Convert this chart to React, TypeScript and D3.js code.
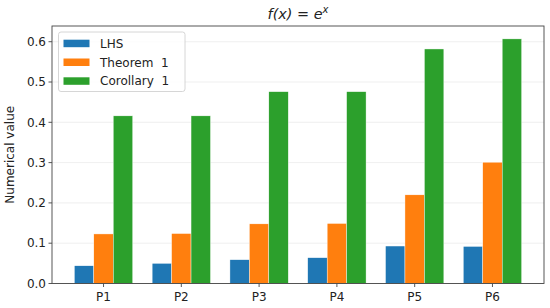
import React from "react";
import * as d3 from "d3";

const categories = ["P1", "P2", "P3", "P4", "P5", "P6"];
const lhs = [0.044, 0.05, 0.059, 0.064, 0.093, 0.092];
const theorem1 = [0.123, 0.124, 0.148, 0.149, 0.22, 0.301];
const corollary1 = [0.416, 0.416, 0.476, 0.476, 0.582, 0.607];
const yTicks = [0, 0.1, 0.2, 0.3, 0.4, 0.5, 0.6];

const series = [
  { name: "LHS", values: lhs, color: "#1f77b4" },
  { name: "Theorem\u00a0\u00a01", values: theorem1, color: "#ff7f0e" },
  { name: "Corollary\u00a0\u00a01", values: corollary1, color: "#2ca02c" },
];

const W = 550;
const H = 308;
const left = 52;
const right = 544;
const top = 26;
const bottom = 283.5;
const barW = 0.25;

const App = () => {
  const x = d3.scaleLinear().domain([-0.6625, 5.6625]).range([left, right]);
  const y = d3.scaleLinear().domain([0, 0.639]).range([bottom, top]);
  const font = "DejaVu Sans, sans-serif";

  return (
    <svg width={W} height={H} style={{ position: "absolute", left: 0, top: 0 }} fontFamily={font}>
      <rect width={W} height={H} fill="white" />
      {/* grid */}
      {yTicks.map((t) => (
        <line key={t} x1={left} x2={right} y1={y(t)} y2={y(t)} stroke="#ebebeb" strokeWidth={0.8} />
      ))}
      {/* bars */}
      {series.map((s, si) =>
        s.values.map((v, i) => {
          const cx = i + (si - 1) * barW;
          return (
            <rect
              key={s.name + i}
              x={x(cx - barW / 2)}
              y={y(v)}
              width={x(barW) - x(0)}
              height={y(0) - y(v)}
              fill={s.color}
              stroke="white"
              strokeWidth={0.4}
            />
          );
        })
      )}
      {/* frame */}
      <rect x={left} y={top} width={right - left} height={bottom - top} fill="none" stroke="#444" strokeWidth={0.9} />
      {/* y ticks */}
      {yTicks.map((t) => (
        <g key={t} transform={`translate(0,${y(t)})`}>
          <line x1={left - 3.5} x2={left} stroke="#444" strokeWidth={0.9} />
          <text x={left - 6} dy="0.35em" textAnchor="end" fontSize={12} fill="#222">
            {d3.format(".1f")(t)}
          </text>
        </g>
      ))}
      {/* x ticks */}
      {categories.map((c, i) => (
        <g key={c} transform={`translate(${x(i)},${bottom})`}>
          <line y1={0} y2={3.5} stroke="#444" strokeWidth={0.9} />
          <text y={17} textAnchor="middle" fontSize={12} fill="#222">
            {c}
          </text>
        </g>
      ))}
      {/* y label */}
      <text transform={`translate(14,${(top + bottom) / 2}) rotate(-90)`} textAnchor="middle" fontSize={12} fill="#222">
        Numerical value
      </text>
      {/* title */}
      <text x={(left + right) / 2} y={19} textAnchor="middle" fontSize={14.4} fill="#222" fontStyle="italic">
        f(x)
        <tspan fontStyle="normal">{"\u00a0=\u00a0"}</tspan>
        e
        <tspan dy={-6} fontSize={10}>x</tspan>
      </text>
      {/* legend */}
      <g transform="translate(58.5,32)">
        <rect width={126.5} height={59.5} rx={2.5} fill="white" fillOpacity={0.8} stroke="#ccc" strokeWidth={0.8} />
        {series.map((s, i) => (
          <g key={s.name} transform={`translate(5,${7.7 + i * 18.8})`}>
            <rect width={26} height={7.5} fill={s.color} />
            <text x={36.5} y={8} fontSize={12} fill="#222">
              {s.name}
            </text>
          </g>
        ))}
      </g>
    </svg>
  );
};

export default App;
